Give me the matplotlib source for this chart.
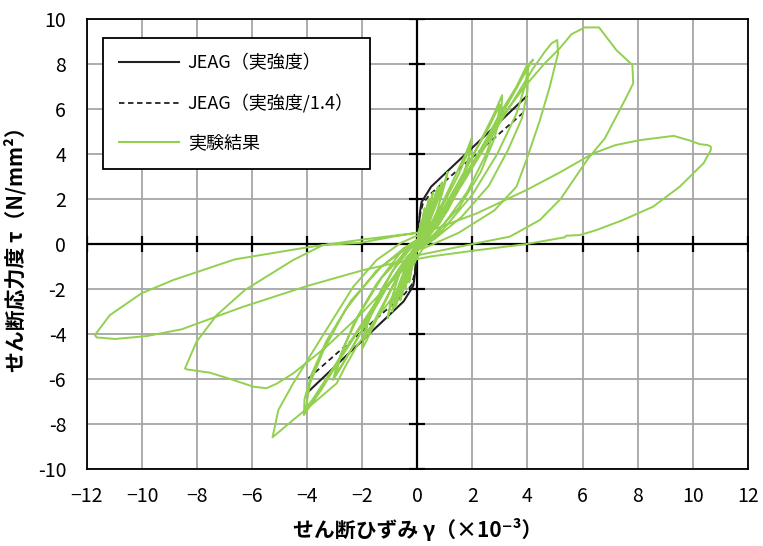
import numpy as np
import matplotlib.pyplot as plt
from matplotlib.lines import Line2D

plt.rcParams['font.family'] = ['Noto Sans CJK JP', 'DejaVu Sans']

# 軸目盛
x_ticks = [-12, -10, -8, -6, -4, -2, 0, 2, 4, 6, 8, 10, 12]
x_labels = ['−12', '−10', '−8', '−6', '−4', '−2', '0', '2', '4', '6', '8', '10', '12']
y_ticks = [-10, -8, -6, -4, -2, 0, 2, 4, 6, 8, 10]
y_labels = ['-10', '-8', '-6', '-4', '-2', '0', '2', '4', '6', '8', '10']

# JEAG 骨格曲線 (γ, τ)
jeag = [(-3.96, -6.56), (-0.5, -2.55), (-0.15, -1.86), (-0.09, -1.36), (0.0, 0.0),
        (0.09, 1.36), (0.15, 1.86), (0.5, 2.55), (3.96, 6.56)]
jeag_14 = [(-3.96, -5.97), (-0.45, -2.2), (-0.2, -1.8), (-0.08, -1.2), (0.0, 0.0),
           (0.08, 1.2), (0.2, 1.8), (0.45, 2.2), (3.92, 5.92)]

# 実験結果 (γ, τ) 載荷サイクルごと
cyc_s1 = [(0, 0), (0.06, 0.5), (0.12, 0.95), (0.09, 0.7), (0.01, 0.1), (-0.05, -0.4),
          (-0.12, -0.9), (-0.09, -0.65), (0.0, -0.1)]
cyc_s2 = [(0.1, 0.5), (0.2, 1.2), (0.27, 1.6), (0.2, 1.1), (0.06, 0.25), (-0.1, -0.5),
          (-0.22, -1.2), (-0.3, -1.7), (-0.22, -1.1), (-0.05, -0.2)]
cyc_s3 = [(0.15, 0.6), (0.32, 1.5), (0.42, 2.0), (0.32, 1.4), (0.1, 0.3), (-0.15, -0.6),
          (-0.32, -1.4), (-0.45, -2.0), (-0.34, -1.4), (-0.1, -0.3)]
cyc_s4 = [(0.2, 0.7), (0.42, 1.7), (0.57, 2.3), (0.46, 1.7), (0.15, 0.4), (-0.2, -0.7),
          (-0.45, -1.8), (-0.62, -2.5), (-0.5, -1.9), (-0.15, -0.35)]
cyc_s5 = [(0.25, 0.7), (0.55, 1.8), (0.75, 2.55), (0.62, 2.0), (0.2, 0.45), (-0.25, -0.75),
          (-0.58, -2.0), (-0.8, -2.8), (-0.66, -2.2), (-0.2, -0.4)]
cyc_s6 = [(0.3, 0.75), (0.65, 1.9), (0.9, 2.75), (0.76, 2.2), (0.25, 0.5), (-0.3, -0.8),
          (-0.7, -2.2), (-0.92, -3.0), (-0.78, -2.4), (-0.25, -0.45)]
cyc_1 = [(0.35, 0.7), (0.7, 1.8), (1.0, 2.8), (1.1, 3.2), (0.98, 2.6), (0.7, 1.4), (0.3, 0.3),
         (-0.3, -0.6), (-0.7, -1.9), (-1.0, -2.9), (-1.08, -3.3), (-0.98, -2.6), (-0.65, -1.3),
         (-0.2, -0.3)]
cyc_2a = [(0.3, 0.5), (0.9, 1.8), (1.4, 3.1), (1.75, 4.0), (1.97, 4.7), (1.9, 4.0), (1.6, 2.8),
          (1.1, 1.5), (0.4, 0.3), (-0.3, -0.5), (-0.9, -1.9), (-1.5, -3.4), (-1.85, -4.3),
          (-2.0, -4.65), (-1.92, -3.9), (-1.5, -2.6), (-0.9, -1.2), (-0.25, -0.2)]
cyc_2b = [(0.35, 0.5), (1.0, 1.9), (1.5, 3.1), (1.92, 4.3), (1.85, 3.6), (1.45, 2.3), (0.8, 0.9),
          (0.0, -0.05), (-0.7, -1.4), (-1.3, -2.8), (-1.9, -4.2), (-1.8, -3.4), (-1.3, -2.0),
          (-0.5, -0.4)]
cyc_3a = [(0.3, 0.4), (1.0, 1.7), (1.7, 3.2), (2.3, 4.6), (2.75, 5.7), (3.08, 6.62), (3.05, 5.9),
          (2.8, 4.7), (2.3, 3.2), (1.5, 1.6), (0.5, 0.3), (-0.4, -0.6), (-1.2, -2.1), (-2.0, -3.8),
          (-2.6, -5.1), (-3.06, -6.04), (-2.95, -5.5), (-2.65, -4.5), (-2.1, -3.1), (-1.3, -1.5),
          (-0.3, -0.2)]
cyc_3b = [(0.4, 0.5), (1.2, 2.0), (2.0, 3.9), (2.6, 5.2), (3.0, 6.2), (2.9, 5.4), (2.5, 4.0),
          (1.8, 2.3), (0.8, 0.6), (-0.3, -0.5), (-1.1, -1.9), (-1.9, -3.6), (-2.5, -4.9),
          (-2.95, -5.8), (-2.8, -5.0), (-2.3, -3.5), (-1.5, -1.8), (-0.5, -0.2)]
cyc_4a = [(0.4, 0.5), (1.3, 2.2), (2.2, 4.0), (2.9, 5.4), (3.5, 6.7), (3.95, 7.7), (4.2, 8.2),
          (4.02, 7.95), (4.0, 6.8), (3.8, 5.6), (3.3, 4.2), (2.6, 2.6), (1.6, 1.2), (0.6, 0.2),
          (-0.3, -0.5), (-1.1, -1.9), (-2.0, -3.6), (-2.8, -5.1), (-3.5, -6.5), (-4.12, -7.6),
          (-4.1, -6.9), (-3.85, -5.8), (-3.3, -4.3), (-2.4, -2.5), (-1.3, -1.0), (-0.3, -0.1)]
cyc_4b = [(0.5, 0.6), (1.4, 2.3), (2.3, 4.2), (3.0, 5.8), (3.6, 7.0), (4.0, 8.0), (3.95, 7.2),
          (3.6, 5.8), (2.9, 4.0), (2.0, 2.2), (0.9, 0.6), (-0.3, -0.6), (-1.2, -2.0), (-2.1, -3.7),
          (-3.0, -5.4), (-3.8, -6.9), (-4.05, -7.3), (-3.9, -6.2), (-3.4, -4.7), (-2.6, -2.9),
          (-1.5, -1.2), (-0.5, -0.2)]
cyc_5 = [(0.5, 0.6), (1.6, 2.6), (2.6, 4.6), (3.5, 6.4), (4.2, 7.8), (4.6, 8.5), (4.87, 8.92),
         (5.08, 9.07), (5.11, 8.47), (4.81, 7.0), (4.45, 5.5), (3.96, 3.73), (3.6, 2.55),
         (2.8, 1.5), (1.5, 0.5), (0.2, -0.2), (-0.88, -2.34), (-1.6, -3.5), (-2.21, -4.56),
         (-2.6, -5.4), (-2.93, -6.19), (-3.78, -7.08), (-4.51, -7.82), (-5.26, -8.59),
         (-5.05, -7.38), (-4.51, -6.19), (-3.54, -4.27), (-2.33, -1.9), (-1.48, -0.71),
         (-0.6, 0.05)]
cyc_6p = [(0.4, 0.6), (1.3, 2.1), (2.2, 3.9), (3.1, 5.7), (3.9, 7.0), (4.6, 8.0), (5.17, 8.7),
          (5.6, 9.33), (6.08, 9.63), (6.6, 9.63), (7.23, 8.62), (7.81, 7.96), (7.84, 7.14),
          (7.6, 6.55), (7.35, 5.96), (6.81, 4.7), (6.2, 3.8), (5.7, 2.9), (5.2, 2.0), (4.45, 1.07),
          (3.36, 0.33), (2.0, 0.0), (0.8, -0.3), (0.0, -0.5)]
cyc_6n = [(-0.88, -1.6), (-2.09, -3.16), (-3.3, -4.56), (-4.51, -5.75), (-5.1, -6.2),
          (-5.48, -6.41), (-5.96, -6.34), (-6.69, -6.04), (-7.53, -5.72), (-8.38, -5.57),
          (-8.44, -5.53), (-8.02, -4.34), (-7.29, -3.16), (-6.26, -2.04), (-4.51, -0.71),
          (-3.42, -0.04), (-2.09, 0.05), (-0.8, 0.35), (0.0, 0.5)]
cyc_10p = [(0.7, 0.7), (2.15, 1.36), (3.96, 2.4), (5.2, 3.2), (6.38, 4.03), (7.2, 4.4),
           (8.08, 4.62), (9.31, 4.81), (9.9, 4.6), (10.26, 4.44), (10.55, 4.4), (10.66, 4.33),
           (10.66, 4.18), (10.4, 3.6), (9.53, 2.55), (8.56, 1.66), (7.47, 1.07), (6.5, 0.62),
           (5.9, 0.4), (5.4, 0.37), (5.35, 0.3), (3.96, 0.0), (2.0, -0.3), (0.5, -0.55)]
cyc_12n = [(-0.88, -0.86), (-1.97, -1.16), (-4.02, -1.87), (-6.38, -2.81), (-8.56, -3.79),
           (-9.83, -4.09), (-10.98, -4.22), (-11.65, -4.15), (-11.71, -4.04), (-11.17, -3.16),
           (-10.02, -2.19), (-8.87, -1.6), (-6.63, -0.68), (-4.02, -0.15), (-2.0, 0.2),
           (0.0, 0.5), (0.33, 0.62)]

test_cycles = [cyc_s1, cyc_s2, cyc_s3, cyc_s4, cyc_s5, cyc_s6, cyc_1, cyc_2a, cyc_2b,
               cyc_3a, cyc_3b, cyc_4a, cyc_4b, cyc_5, cyc_6p, cyc_6n, cyc_10p, cyc_12n]
test = np.array([p for c in test_cycles for p in c])
jeag = np.array(jeag)
jeag_14 = np.array(jeag_14)

green = '#92D050'

fig = plt.figure(figsize=(7.63, 5.46), dpi=100)
ax = fig.add_axes([0.114, 0.141, 0.866, 0.824])
ax.set_xlim(-12, 12)
ax.set_ylim(-10, 10)
ax.set_xticks(x_ticks)
ax.set_xticklabels(x_labels, fontsize=14)
ax.set_yticks(y_ticks)
ax.set_yticklabels(y_labels, fontsize=14)
ax.tick_params(axis='x', length=0, pad=12)
ax.tick_params(axis='y', length=0, pad=15)
ax.grid(True, color='#a6a6a6', lw=1.3)
ax.set_axisbelow(True)
for s in ax.spines.values():
    s.set_linewidth(1.3)
    s.set_color('black')

# 原点を通る軸と目盛
ax.axhline(0, color='black', lw=1.6, zorder=2)
ax.axvline(0, color='black', lw=1.6, zorder=2)
xt = [t for t in x_ticks if t != 0]
yt = [t for t in y_ticks if t != 0]
ax.plot(xt, np.zeros(len(xt)), ls='none', marker='|', ms=11, mew=1.6, color='black', zorder=2)
ax.plot(np.zeros(len(yt)), yt, ls='none', marker='_', ms=11, mew=1.6, color='black', zorder=2)

ax.plot(jeag[:, 0], jeag[:, 1], color='#222222', lw=1.5, zorder=3)
ax.plot(jeag_14[:, 0], jeag_14[:, 1], color='#222222', lw=1.3, ls=(0, (3, 2)), zorder=3)
ax.plot(test[:, 0], test[:, 1], color=green, lw=1.4, zorder=4)

handles = [Line2D([], [], color='#222222', lw=1.5),
           Line2D([], [], color='#222222', lw=1.3, ls=(0, (3, 2))),
           Line2D([], [], color=green, lw=1.5)]
leg = ax.legend(handles, ['JEAG（実強度）', 'JEAG（実強度/1.4）', '実験結果'],
                loc='upper left', bbox_to_anchor=(0.024, 0.958), fontsize=13,
                frameon=True, fancybox=False, framealpha=1, edgecolor='black',
                handlelength=3.3, handletextpad=0.5, labelspacing=1.2, borderpad=0.9,
                borderaxespad=0)
leg.get_frame().set_linewidth(1.3)
leg.set_zorder(5)

ax.set_xlabel('せん断ひずみ γ（×10⁻³）', fontsize=15, fontweight='bold', labelpad=8)
ax.set_ylabel('せん断応力度 τ（N/mm²）', fontsize=15, fontweight='bold', labelpad=8)

fig.savefig('out.png', dpi=100)
